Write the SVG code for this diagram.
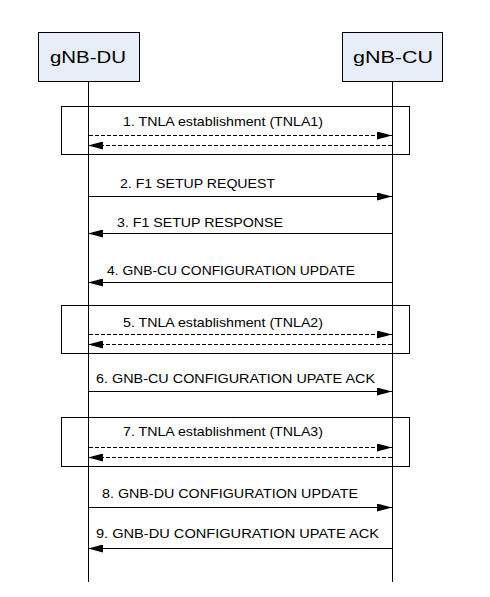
<svg xmlns="http://www.w3.org/2000/svg" width="490" height="597" viewBox="0 0 490 597">
<defs>
<marker id="ah" markerUnits="userSpaceOnUse" markerWidth="15" markerHeight="8" refX="15" refY="4" orient="auto">
<path d="M0,0 L15,4 L0,8 z" fill="#000"/>
</marker>
<style>
.box{fill:#E8EEF8;stroke:#000;stroke-width:1}
.frame{fill:none;stroke:#000;stroke-width:1}
.life{stroke:#000;stroke-width:1}
.msg{stroke:#000;stroke-width:1;fill:none;marker-end:url(#ah)}
.dash{stroke-dasharray:4,2}
.lbl{font-family:"Liberation Sans",Arial,sans-serif;font-size:13px;fill:#000}
.nlbl{font-family:"Liberation Sans",Arial,sans-serif;font-size:17px;fill:#000}
</style>
</defs>
<rect width="490" height="597" fill="#fff"/>
<g id="lifelines">
<line class="life" x1="88.5" y1="81" x2="88.5" y2="582"/>
<line class="life" x1="392.5" y1="81" x2="392.5" y2="582"/>
</g>
<g id="gnb-du">
<rect class="box" x="38.5" y="32.5" width="101" height="49"/>
<text class="nlbl" x="50" y="63" textLength="76" lengthAdjust="spacingAndGlyphs">gNB-DU</text>
</g>
<g id="gnb-cu">
<rect class="box" x="342.5" y="32.5" width="100" height="49"/>
<text class="nlbl" x="353" y="63" textLength="80" lengthAdjust="spacingAndGlyphs">gNB-CU</text>
</g>
<g id="frame1">
<rect class="frame" x="61.5" y="106.5" width="348" height="48"/>
</g>
<g id="frame2">
<rect class="frame" x="61.5" y="305.5" width="348" height="48"/>
</g>
<g id="frame3">
<rect class="frame" x="61.5" y="417.5" width="348" height="49"/>
</g>
<g id="connectors">
<line class="msg dash" x1="89" y1="135.5" x2="392" y2="135.5"/>
<line class="msg dash" x1="392" y1="145.5" x2="88" y2="145.5"/>
<line class="msg" x1="89" y1="196.5" x2="392" y2="196.5"/>
<line class="msg" x1="392" y1="233.5" x2="88" y2="233.5"/>
<line class="msg" x1="392" y1="282.5" x2="88" y2="282.5"/>
<line class="msg dash" x1="89" y1="334.5" x2="392" y2="334.5"/>
<line class="msg dash" x1="392" y1="344.5" x2="88" y2="344.5"/>
<line class="msg" x1="89" y1="391.5" x2="392" y2="391.5"/>
<line class="msg dash" x1="89" y1="447.5" x2="392" y2="447.5"/>
<line class="msg dash" x1="392" y1="457.5" x2="88" y2="457.5"/>
<line class="msg" x1="89" y1="507.5" x2="392" y2="507.5"/>
<line class="msg" x1="392" y1="548.5" x2="88" y2="548.5"/>
</g>
<g id="labels">
<text class="lbl" x="123" y="126" textLength="200" lengthAdjust="spacingAndGlyphs">1. TNLA establishment (TNLA1)</text>
<text class="lbl" x="120" y="188" textLength="155" lengthAdjust="spacingAndGlyphs">2. F1 SETUP REQUEST</text>
<text class="lbl" x="117" y="227" textLength="166" lengthAdjust="spacingAndGlyphs">3. F1 SETUP RESPONSE</text>
<text class="lbl" x="107" y="275" textLength="248" lengthAdjust="spacingAndGlyphs">4. GNB-CU CONFIGURATION UPDATE</text>
<text class="lbl" x="123" y="327" textLength="200" lengthAdjust="spacingAndGlyphs">5. TNLA establishment (TNLA2)</text>
<text class="lbl" x="96" y="383" textLength="279" lengthAdjust="spacingAndGlyphs">6. GNB-CU CONFIGURATION UPATE ACK</text>
<text class="lbl" x="123" y="436" textLength="200" lengthAdjust="spacingAndGlyphs">7. TNLA establishment (TNLA3)</text>
<text class="lbl" x="102" y="498" textLength="256" lengthAdjust="spacingAndGlyphs">8. GNB-DU CONFIGURATION UPDATE</text>
<text class="lbl" x="96" y="538" textLength="283" lengthAdjust="spacingAndGlyphs">9. GNB-DU CONFIGURATION UPATE ACK</text>
</g>
</svg>
